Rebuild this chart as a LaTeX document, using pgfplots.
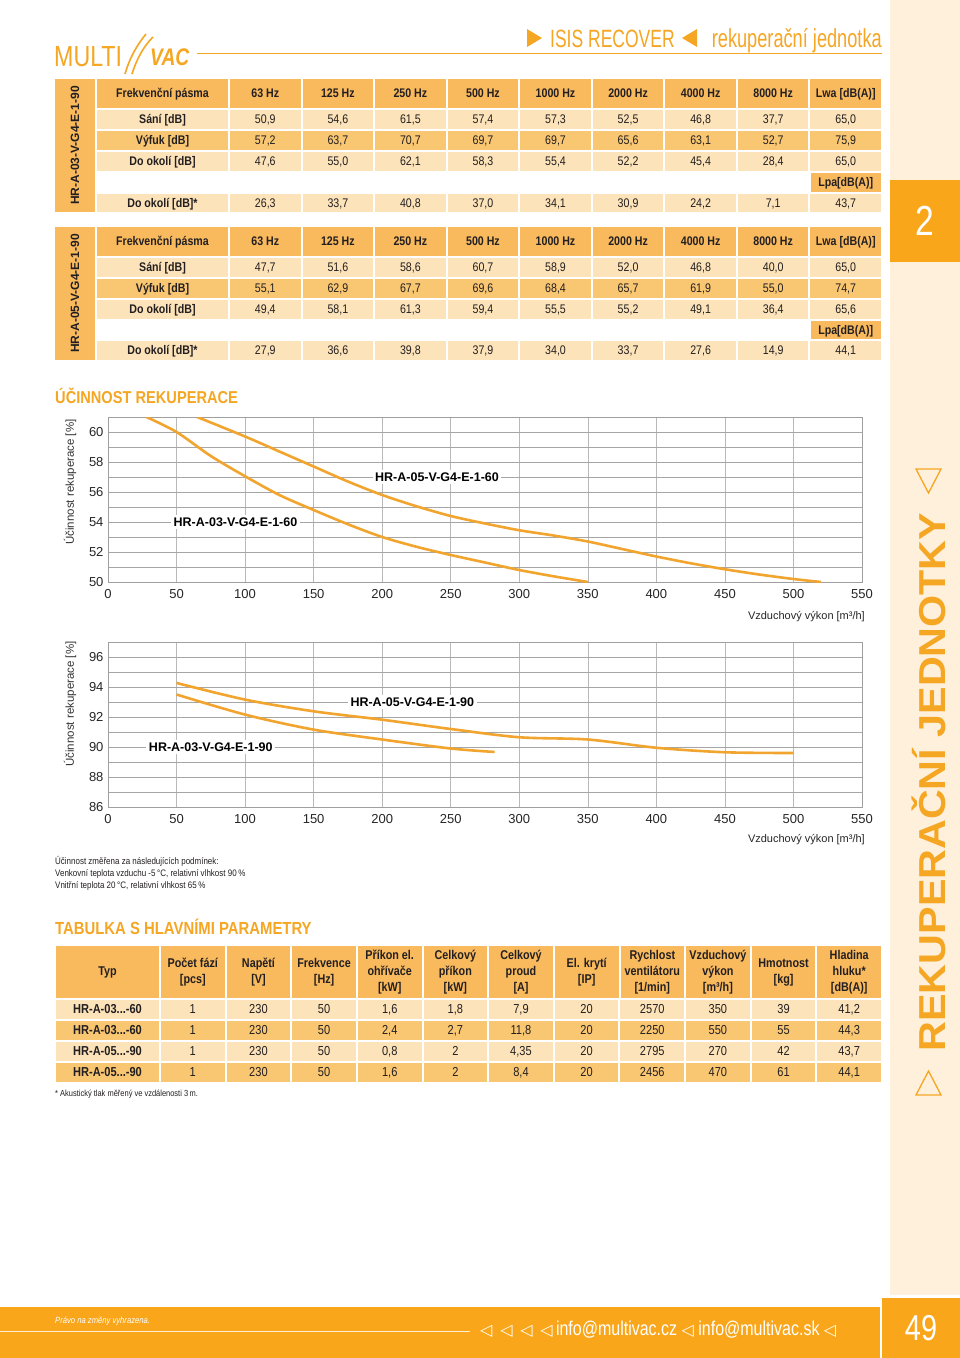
\documentclass[border=0pt]{standalone}
\usepackage{fontspec}
\setmainfont{Liberation Sans}[FakeStretch=0.85]
\newfontfamily\axfont{Liberation Sans}
\newfontfamily\symfont{DejaVu Sans}
\newfontfamily\widefont{Liberation Sans}[FakeStretch=1.1]
\newfontfamily\lightfont{Liberation Sans}[FakeStretch=0.7]
\newfontfamily\logofont{Liberation Sans}[FakeStretch=0.8]
\usepackage{pgfplots}
\pgfplotsset{compat=1.18}
\definecolor{org}{HTML}{F5A623}
\definecolor{hdr}{HTML}{F9BA5E}
\definecolor{drk}{HTML}{F9C672}
\definecolor{lgt}{HTML}{FCE3B9}
\definecolor{cream}{HTML}{FEF0DB}
\definecolor{curve}{HTML}{F2A52E}
\definecolor{txt}{HTML}{231F20}
\definecolor{foot}{HTML}{F9A61A}
\newcommand\ddd{...}

\newcommand\cellbox[6]{%
  \fill[#5] (#1+1,-#2-1) rectangle (#3-1,-#4+1);
  \node[inner sep=0pt,text=txt,anchor=base] at ({(#1+#3)/2},{-(#2+#4)/2-4.4}) {#6};
}
% y1 y2 color label list fontprefix
\newcommand\frow[6]{%
  \cellbox{96}{#1}{229}{#2}{#3}{\bfseries #4}
  \foreach \v [count=\i] in {#5} {
    \pgfmathsetmacro\xa{229+72.56*(\i-1)}
    \pgfmathsetmacro\xb{229+72.56*\i}
    \cellbox{\xa}{#1}{\xb}{#2}{#3}{#6\v}
  }
}
% y1 y2 color list
\newcommand\prow[4]{%
  \foreach \v [count=\i] in {#4} {
    \ifnum\i=1 \def\xa{55}\def\xb{160}\def\fp{\bfseries\fontsize{13}{15}\selectfont}\else
      \pgfmathsetmacro\xa{160+65.636*(\i-2)}\pgfmathsetmacro\xb{160+65.636*(\i-1)}\def\fp{\fontsize{13}{15}\selectfont}\fi
    \cellbox{\xa}{#1}{\xb}{#2}{#3}{\fp\v}
  }
}
\newcommand\hcell[3]{%
  \fill[hdr] (#1+1,-946) rectangle (#2-1,-998);
  \node[inner sep=0pt,text=txt,align=center,font=\bfseries\fontsize{12.7}{16}\selectfont] at ({(#1+#2)/2},-972) {#3};
}

\tikzset{lbl/.style={fill=white, inner sep=2.5pt, text=black, font=\axfont\bfseries\fontsize{12.5}{14}\selectfont}}
\pgfplotsset{effstyle/.style={
  anchor=south west, scale only axis, width=754pt, height=165pt,
  xmin=0, xmax=550, xtick={0,50,...,550},
  grid=both,
  major x grid style={draw=gray!55, line width=0.6pt},
  major y grid style={draw=gray!70, line width=1pt},
  minor y grid style={draw=gray!70, line width=1pt},
  axis line style={draw=gray!75, line width=0.8pt},
  major tick length=0pt, minor tick length=0pt,
  /pgf/number format/assume math mode=true,
  ticklabel style={font=\axfont\fontsize{13}{13}\selectfont, text=black!85},
  xticklabel style={yshift=-4pt},
  yticklabel style={xshift=-1pt},
},
crv/.style={draw=curve, line width=2.6pt, smooth, mark=none}}

\begin{document}
\begin{tikzpicture}[x=1pt,y=1pt,font=\fontsize{12.5}{15}\selectfont]
\path[use as bounding box] (0,0) rectangle (960,-1358);
\fill[white] (0,0) rectangle (960,-1358);

% sidebar
\fill[cream] (890,0) rectangle (960,-1295);
\fill[foot] (890,-180) rectangle (960,-262);
\node[text=white,font=\logofont\fontsize{42}{42}\selectfont] at (925,-221) {2};
\node[rotate=90,text=org,font=\widefont\bfseries\fontsize{37.5}{40}\selectfont,inner sep=0pt] at (929,-782) {REKUPERAČNÍ JEDNOTKY};
\draw[org,line width=1.3pt,line join=miter] (916,-469) -- (941,-469) -- (928.5,-493) -- cycle;
\draw[org,line width=1.3pt,line join=miter] (916,-1095) -- (941,-1095) -- (928.5,-1071) -- cycle;

% header
\node[anchor=base west,inner sep=0pt,text=org,font=\logofont\fontsize{29}{29}\selectfont] at (54,-66) {MULTI};
\draw[org,line width=1.6pt] (125,-74) .. controls (130,-57) and (137,-45) .. (146,-34);
\draw[org,line width=1.6pt] (132,-74) .. controls (137,-58) and (144,-46) .. (153,-37);
\node[anchor=base west,inner sep=0pt,text=org,font=\logofont\bfseries\itshape\fontsize{24}{24}\selectfont] at (150,-65) {VAC};
\draw[org,line width=0.8pt] (197,-53) -- (882,-53);
\fill[org] (527,-29) -- (527,-47) -- (542,-38) -- cycle;
\node[anchor=base west,inner sep=0pt,text=org,font=\lightfont\fontsize{25}{25}\selectfont] at (550,-47) {ISIS RECOVER};
\fill[org] (697,-29) -- (697,-47) -- (682,-38) -- cycle;
\node[anchor=base east,inner sep=0pt,text=org,font=\lightfont\fontsize{26}{26}\selectfont] at (882,-47) {rekuperační jednotka};

% table 1
\fill[hdr] (55,-79) rectangle (95,-212);
\node[rotate=90,text=txt,font=\axfont\bfseries\fontsize{12}{12}\selectfont] at (75,-145.5) {HR-A-03-V-G4-E-1-90};
\frow{78}{109}{hdr}{Frekvenční pásma}{63 Hz,125 Hz,250 Hz,500 Hz,1000 Hz,2000 Hz,4000 Hz,8000 Hz,Lwa [dB(A)]}{\bfseries}
\frow{109}{130}{lgt}{Sání [dB]}{{50,9},{54,6},{61,5},{57,4},{57,3},{52,5},{46,8},{37,7},{65,0}}{}
\frow{130}{151}{drk}{Výfuk [dB]}{{57,2},{63,7},{70,7},{69,7},{69,7},{65,6},{63,1},{52,7},{75,9}}{}
\frow{151}{172}{lgt}{Do okolí [dB]}{{47,6},{55,0},{62,1},{58,3},{55,4},{52,2},{45,4},{28,4},{65,0}}{}
\cellbox{809.5}{172}{882}{193}{hdr}{\bfseries Lpa[dB(A)]}
\frow{193}{213}{lgt}{Do okolí [dB]*}{{26,3},{33,7},{40,8},{37,0},{34,1},{30,9},{24,2},{7,1},{43,7}}{}

% table 2
\fill[hdr] (55,-227) rectangle (95,-360);
\node[rotate=90,text=txt,font=\axfont\bfseries\fontsize{12}{12}\selectfont] at (75,-293.5) {HR-A-05-V-G4-E-1-90};
\frow{226}{257}{hdr}{Frekvenční pásma}{63 Hz,125 Hz,250 Hz,500 Hz,1000 Hz,2000 Hz,4000 Hz,8000 Hz,Lwa [dB(A)]}{\bfseries}
\frow{257}{278}{lgt}{Sání [dB]}{{47,7},{51,6},{58,6},{60,7},{58,9},{52,0},{46,8},{40,0},{65,0}}{}
\frow{278}{299}{drk}{Výfuk [dB]}{{55,1},{62,9},{67,7},{69,6},{68,4},{65,7},{61,9},{55,0},{74,7}}{}
\frow{299}{320}{lgt}{Do okolí [dB]}{{49,4},{58,1},{61,3},{59,4},{55,5},{55,2},{49,1},{36,4},{65,6}}{}
\cellbox{809.5}{320}{882}{340}{hdr}{\bfseries Lpa[dB(A)]}
\frow{340}{361}{lgt}{Do okolí [dB]*}{{27,9},{36,6},{39,8},{37,9},{34,0},{33,7},{27,6},{14,9},{44,1}}{}

% section title
\node[anchor=west,inner sep=0pt,text=org,font=\bfseries\fontsize{17.2}{18}\selectfont] at (55,-396) {ÚČINNOST REKUPERACE};

% chart 1
\node[rotate=90,text=black!80,font=\axfont\fontsize{11.5}{12}\selectfont] at (70,-482) {Účinnost rekuperace [\%]};
\begin{axis}[effstyle, at={(108pt,-582pt)}, ymin=50, ymax=61, ytick={50,52,...,60}, minor ytick={51,53,...,61}]
\addplot[crv] coordinates {(28,61) (50,60) (75,58.4) (100,57.05) (125,55.8) (150,54.8) (175,53.85) (200,53) (225,52.35) (250,51.8) (275,51.3) (300,50.8) (325,50.38) (350,50)};
\addplot[crv] coordinates {(65,61) (100,59.7) (125,58.7) (150,57.7) (175,56.7) (200,55.8) (225,55.05) (250,54.4) (275,53.9) (300,53.45) (325,53.1) (350,52.7) (375,52.2) (400,51.7) (425,51.25) (450,50.85) (475,50.5) (500,50.2) (520,50)};
\node[lbl] at (axis cs:240,57) {HR-A-05-V-G4-E-1-60};
\node[lbl] at (axis cs:93,54) {HR-A-03-V-G4-E-1-60};
\end{axis}
\node[anchor=east,inner sep=0pt,text=black!85,font=\axfont\fontsize{11}{12}\selectfont] at (865,-617) {Vzduchový výkon [m³/h]};

% chart 2
\node[rotate=90,text=black!80,font=\axfont\fontsize{11.5}{12}\selectfont] at (70,-704) {Účinnost rekuperace [\%]};
\begin{axis}[effstyle, at={(108pt,-807pt)}, ymin=86, ymax=97, ytick={86,88,...,96}, minor ytick={87,89,...,97}]
\addplot[crv] coordinates {(50,94.27) (100,93.16) (150,92.38) (200,91.82) (250,91.2) (300,90.65) (350,90.5) (400,89.95) (450,89.65) (500,89.6)};
\addplot[crv] coordinates {(50,93.5) (100,92.16) (150,91.16) (200,90.5) (250,89.9) (282,89.67)};
\node[lbl] at (axis cs:222,93) {HR-A-05-V-G4-E-1-90};
\node[lbl] at (axis cs:75,90) {HR-A-03-V-G4-E-1-90};
\end{axis}
\node[anchor=east,inner sep=0pt,text=black!85,font=\axfont\fontsize{11}{12}\selectfont] at (865,-840) {Vzduchový výkon [m³/h]};

% notes
\node[anchor=north west,inner sep=0pt,align=left,text=txt,font=\fontsize{9.4}{12}\selectfont] at (55,-856) {Účinnost změřena za následujících podmínek:\\Venkovní teplota vzduchu -5\,°C, relativní vlhkost 90\,\%\\Vnitřní teplota 20\,°C, relativní vlhkost 65\,\%};

% table 3
\node[anchor=west,inner sep=0pt,text=org,font=\bfseries\fontsize{17.5}{18}\selectfont] at (55,-927) {TABULKA S HLAVNÍMI PARAMETRY};
\hcell{55}{160}{Typ}
\hcell{160}{225.6}{Počet fází\\{}[pcs]}
\hcell{225.6}{291.3}{Napětí\\{}[V]}
\hcell{291.3}{356.9}{Frekvence\\{}[Hz]}
\hcell{356.9}{422.5}{Příkon el.\\ohřívače\\{}[kW]}
\hcell{422.5}{488.2}{Celkový\\příkon\\{}[kW]}
\hcell{488.2}{553.8}{Celkový\\proud\\{}[A]}
\hcell{553.8}{619.5}{El. krytí\\{}[IP]}
\hcell{619.5}{685.1}{Rychlost\\ventilátoru\\{}[1/min]}
\hcell{685.1}{750.7}{Vzduchový\\výkon\\{}[m³/h]}
\hcell{750.7}{816.4}{Hmotnost\\{}[kg]}
\hcell{816.4}{882}{Hladina\\hluku*\\{}[dB(A)]}
\prow{999}{1020}{lgt}{HR-A-03\ddd-60,1,230,50,{1,6},{1,8},{7,9},20,2570,350,39,{41,2}}
\prow{1020}{1041}{drk}{HR-A-03\ddd-60,1,230,50,{2,4},{2,7},{11,8},20,2250,550,55,{44,3}}
\prow{1041}{1062}{lgt}{HR-A-05\ddd-90,1,230,50,{0,8},2,{4,35},20,2795,270,42,{43,7}}
\prow{1062}{1083}{drk}{HR-A-05\ddd-90,1,230,50,{1,6},2,{8,4},20,2456,470,61,{44,1}}
\node[anchor=west,inner sep=0pt,text=txt,font=\fontsize{8.8}{10}\selectfont] at (55,-1094) {* Akustický tlak měřený ve vzdálenosti 3\,m.};

% footer
\fill[foot] (0,-1307) rectangle (880,-1358);
\fill[foot] (882,-1298) rectangle (960,-1358);
\draw[white!80!foot,line width=0.8pt] (0,-1331) -- (470,-1331);
\node[anchor=west,inner sep=0pt,text=white,font=\itshape\fontsize{9}{10}\selectfont] at (55,-1321) {Právo na změny vyhrazena.};
\node[anchor=west,inner sep=0pt,text=white,font=\logofont\fontsize{20}{20}\selectfont] at (480,-1330) {{\symfont\fontsize{16}{16}\selectfont ◁\ \,◁\ \,◁\ \,◁}\,info@multivac.cz\ {\symfont\fontsize{16}{16}\selectfont ◁}\ info@multivac.sk\ {\symfont\fontsize{16}{16}\selectfont ◁}};
\node[text=white,font=\logofont\fontsize{36}{36}\selectfont] at (921,-1328) {49};
\end{tikzpicture}
\end{document}
